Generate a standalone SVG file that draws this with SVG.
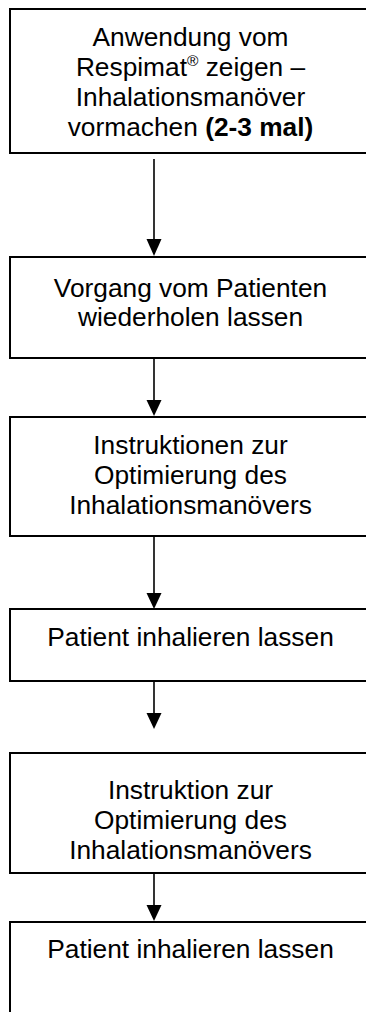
<svg xmlns="http://www.w3.org/2000/svg" width="366" height="1012" viewBox="0 0 366 1012">
  <style>
    .box { fill: #ffffff; stroke: #000000; stroke-width: 2; }
    .label { font-family: "Liberation Sans", Arial, sans-serif; font-size: 26.3px; fill: #000000; text-anchor: middle; }
    .bold { font-weight: bold; }
    .sup { font-size: 15.5px; }
    .link { stroke: #000000; stroke-width: 1.6; fill: none; }
    .head { fill: #000000; }
  </style>
  <rect x="0" y="0" width="366" height="1012" fill="#ffffff"/>

  <g id="connectors">
    <line class="link" x1="154" y1="159" x2="154" y2="240"/>
    <polygon class="head" points="146.5,239 161.5,239 154,256"/>
    <line class="link" x1="154" y1="359" x2="154" y2="401"/>
    <polygon class="head" points="146.5,400 161.5,400 154,416"/>
    <line class="link" x1="154" y1="537" x2="154" y2="594"/>
    <polygon class="head" points="146.5,593 161.5,593 154,609"/>
    <line class="link" x1="154" y1="681" x2="154" y2="714"/>
    <polygon class="head" points="146.5,713 161.5,713 154,729"/>
    <line class="link" x1="154" y1="873" x2="154" y2="906"/>
    <polygon class="head" points="146.5,905 161.5,905 154,921"/>
  </g>

  <g id="step1">
    <rect class="box" x="10" y="9" width="365" height="144"/>
    <text class="label" x="190.5" y="45.5">Anwendung vom</text>
    <text class="label" x="190.5" y="75.5">Respimat<tspan class="sup" dy="-10">®</tspan><tspan dy="10"> zeigen –</tspan></text>
    <text class="label" x="190.5" y="105.5">Inhalationsmanöver</text>
    <text class="label" x="190.5" y="135.5">vormachen <tspan class="bold">(2-3 mal)</tspan></text>
  </g>

  <g id="step2">
    <rect class="box" x="10" y="257" width="365" height="101"/>
    <text class="label" x="190.5" y="296.5">Vorgang vom Patienten</text>
    <text class="label" x="190.5" y="325.5">wiederholen lassen</text>
  </g>

  <g id="step3">
    <rect class="box" x="10" y="417" width="365" height="119"/>
    <text class="label" x="190.5" y="453.5">Instruktionen zur</text>
    <text class="label" x="190.5" y="483.5">Optimierung des</text>
    <text class="label" x="190.5" y="513.5">Inhalationsmanövers</text>
  </g>

  <g id="step4">
    <rect class="box" x="10" y="609" width="365" height="72"/>
    <text class="label" x="190.5" y="646">Patient inhalieren lassen</text>
  </g>

  <g id="step5">
    <rect class="box" x="10" y="753" width="365" height="120"/>
    <text class="label" x="190.5" y="798.5">Instruktion zur</text>
    <text class="label" x="190.5" y="828.5">Optimierung des</text>
    <text class="label" x="190.5" y="858.5">Inhalationsmanövers</text>
  </g>

  <g id="step6">
    <rect class="box" x="10" y="922" width="365" height="100"/>
    <text class="label" x="190.5" y="957.5">Patient inhalieren lassen</text>
  </g>
</svg>
